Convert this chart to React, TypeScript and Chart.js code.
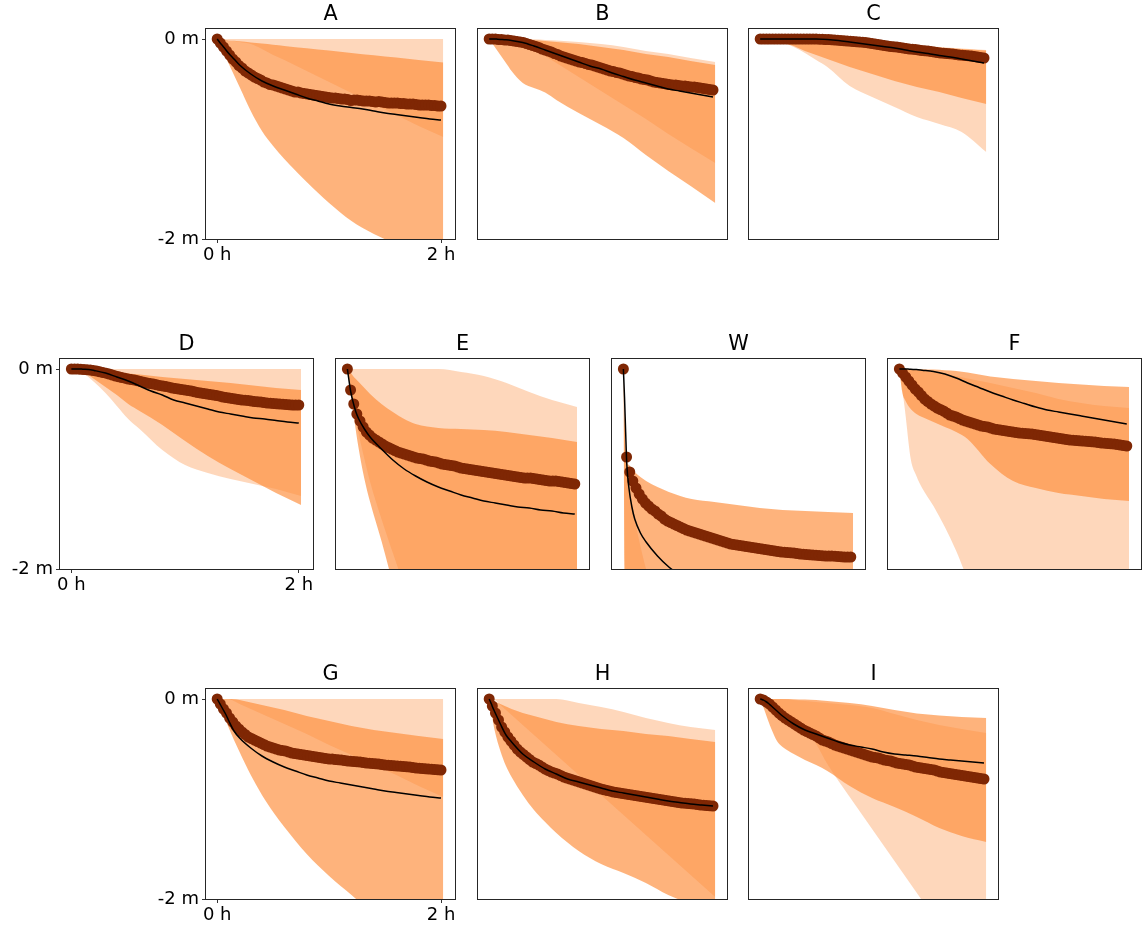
import React, { useEffect, useRef } from 'react';
import { Chart, registerables } from 'chart.js';
Chart.register(...registerables);

// ---- shared time axes (hours) ----
const DOT_T = [0, 0.028, 0.056, 0.083, 0.111, 0.139, 0.167, 0.194, 0.222, 0.25, 0.278, 0.306, 0.333, 0.361, 0.389, 0.417, 0.444, 0.472, 0.5, 0.528, 0.556, 0.583, 0.611, 0.639, 0.667, 0.694, 0.722, 0.75, 0.778, 0.806, 0.833, 0.861, 0.889, 0.917, 0.944, 0.972, 1.0, 1.028, 1.056, 1.083, 1.111, 1.139, 1.167, 1.194, 1.222, 1.25, 1.278, 1.306, 1.333, 1.361, 1.389, 1.417, 1.444, 1.472, 1.5, 1.528, 1.556, 1.583, 1.611, 1.639, 1.667, 1.694, 1.722, 1.75, 1.778, 1.806, 1.833, 1.861, 1.889, 1.917, 1.944, 1.972, 2.0];
const LINE_T = [0, 0.01, 0.02, 0.03, 0.05, 0.075, 0.1, 0.15, 0.2, 0.3, 0.4, 0.5, 0.6, 0.7, 0.8, 0.9, 1.0, 1.1, 1.2, 1.3, 1.4, 1.5, 1.6, 1.7, 1.8, 1.9, 2.0];
const BAND_T = [0, 0.025, 0.05, 0.1, 0.15, 0.2, 0.3, 0.4, 0.5, 0.6, 0.8, 1.0, 1.2, 1.4, 1.6, 1.8, 2.02];

const X_TICKS = [0, 2];
const Y_TICKS = [-2, 0];

// ---- A ----
const A_DOTS = [0, -0.04, -0.08, -0.12, -0.16, -0.2, -0.23, -0.265, -0.29, -0.32, -0.34, -0.36,
  -0.38, -0.395, -0.41, -0.43, -0.44, -0.455, -0.46, -0.47, -0.48, -0.49, -0.5, -0.51,
  -0.52, -0.53, -0.53, -0.54, -0.545, -0.55, -0.555, -0.56, -0.565, -0.57, -0.575, -0.58,
  -0.585, -0.59, -0.59, -0.595, -0.6, -0.6, -0.605, -0.615, -0.61, -0.61, -0.615, -0.62,
  -0.62, -0.62, -0.625, -0.63, -0.625, -0.63, -0.635, -0.64, -0.64, -0.64, -0.64, -0.645,
  -0.645, -0.65, -0.65, -0.65, -0.655, -0.66, -0.66, -0.66, -0.66, -0.665, -0.665, -0.67, -0.67];
const A_LINE = [0, -0.015, -0.03, -0.045, -0.07, -0.105, -0.14, -0.2, -0.26, -0.35, -0.42, -0.47, -0.51, -0.55, -0.59, -0.62, -0.65, -0.67, -0.685, -0.7, -0.72, -0.74, -0.755, -0.77, -0.785, -0.8, -0.81];
const A_P_UP = [0, 0, 0, 0, 0, 0, 0, 0, 0, 0, 0, 0, 0, 0, 0, 0, 0];
const A_P_LO = [0, 0, -0.005, -0.01, -0.02, -0.03, -0.05, -0.1, -0.16, -0.21, -0.32, -0.43, -0.54, -0.65, -0.76, -0.87, -0.98];
const A_M_UP = [0, -0.003, -0.006, -0.012, -0.017, -0.023, -0.035, -0.046, -0.058, -0.07, -0.093, -0.116, -0.14, -0.163, -0.186, -0.21, -0.235];
const A_M_LO = [0, -0.06, -0.12, -0.24, -0.36, -0.48, -0.72, -0.92, -1.07, -1.2, -1.43, -1.64, -1.82, -1.95, -2.05, -2.14, -2.22];

// ---- B ----
const B_DOTS = [0, 0, 0, -0.005, -0.005, -0.01, -0.01, -0.015, -0.02, -0.025, -0.03, -0.035,
  -0.045, -0.055, -0.065, -0.075, -0.085, -0.1, -0.11, -0.12, -0.13, -0.145, -0.155, -0.17,
  -0.18, -0.19, -0.2, -0.21, -0.22, -0.23, -0.235, -0.245, -0.255, -0.26, -0.27, -0.28,
  -0.29, -0.3, -0.31, -0.32, -0.325, -0.335, -0.34, -0.35, -0.36, -0.37, -0.375, -0.385,
  -0.39, -0.4, -0.405, -0.41, -0.42, -0.43, -0.435, -0.44, -0.445, -0.45, -0.455, -0.46,
  -0.46, -0.465, -0.47, -0.47, -0.475, -0.48, -0.48, -0.485, -0.49, -0.495, -0.5, -0.505, -0.51];
const B_LINE = [0, 0, 0, 0, 0, -0.002, -0.004, -0.008, -0.015, -0.035, -0.07, -0.11, -0.15, -0.19, -0.23, -0.27, -0.3, -0.34, -0.375, -0.41, -0.44, -0.47, -0.5, -0.52, -0.54, -0.56, -0.58];
const B_P_UP = [0, 0, 0, 0, 0, 0, 0, -0.003, -0.01, -0.015, -0.03, -0.05, -0.08, -0.12, -0.15, -0.19, -0.23];
const B_P_LO = [0, 0, 0, 0, 0, -0.005, -0.04, -0.1, -0.17, -0.24, -0.38, -0.52, -0.66, -0.8, -0.95, -1.09, -1.24];
const B_M_UP = [0, 0, 0, 0, 0, -0.003, -0.008, -0.013, -0.02, -0.03, -0.05, -0.08, -0.11, -0.15, -0.18, -0.22, -0.26];
const B_M_LO = [0, -0.04, -0.08, -0.16, -0.24, -0.32, -0.44, -0.49, -0.535, -0.61, -0.74, -0.86, -0.99, -1.16, -1.32, -1.47, -1.64];

// ---- C ----
const C_DOTS = [0, 0, 0, 0, 0, 0, 0, 0, 0, 0, 0, 0,
  0, 0, 0, 0, 0, 0, 0, -0.002, -0.003, -0.005, -0.006, -0.008,
  -0.01, -0.012, -0.015, -0.018, -0.02, -0.022, -0.025, -0.028, -0.03, -0.032, -0.035, -0.04,
  -0.045, -0.05, -0.055, -0.06, -0.065, -0.07, -0.075, -0.078, -0.08, -0.085, -0.09, -0.095,
  -0.1, -0.102, -0.105, -0.11, -0.115, -0.118, -0.12, -0.125, -0.13, -0.135, -0.14, -0.142,
  -0.145, -0.148, -0.15, -0.155, -0.16, -0.162, -0.165, -0.168, -0.17, -0.175, -0.18, -0.185, -0.19];
const C_LINE = [0, 0, 0, 0, 0, 0, 0, 0, 0, 0, 0, 0, -0.005, -0.015, -0.03, -0.045, -0.06, -0.075, -0.09, -0.11, -0.13, -0.145, -0.165, -0.18, -0.2, -0.22, -0.24];
const C_P_UP = [0, 0, 0, 0, 0, 0, 0, -0.003, -0.007, -0.01, -0.02, -0.035, -0.05, -0.065, -0.08, -0.095, -0.11];
const C_P_LO = [0, 0, -0.003, -0.008, -0.015, -0.035, -0.08, -0.14, -0.21, -0.28, -0.47, -0.58, -0.68, -0.78, -0.85, -0.93, -1.13];
const C_M_UP = [0, 0, 0, 0, 0, 0, -0.002, -0.005, -0.01, -0.013, -0.024, -0.04, -0.055, -0.07, -0.085, -0.1, -0.115];
const C_M_LO = [0, 0, 0, -0.005, -0.01, -0.035, -0.07, -0.12, -0.16, -0.2, -0.28, -0.35, -0.42, -0.48, -0.53, -0.59, -0.65];

// ---- D ----
const D_DOTS = [0, 0, 0, -0.003, -0.005, -0.008, -0.01, -0.015, -0.02, -0.028, -0.035, -0.042,
  -0.05, -0.06, -0.07, -0.078, -0.085, -0.092, -0.1, -0.105, -0.11, -0.118, -0.125, -0.132,
  -0.14, -0.145, -0.15, -0.158, -0.165, -0.17, -0.175, -0.182, -0.19, -0.195, -0.2, -0.205,
  -0.21, -0.215, -0.22, -0.228, -0.235, -0.24, -0.245, -0.25, -0.255, -0.26, -0.265, -0.272,
  -0.28, -0.285, -0.29, -0.295, -0.3, -0.305, -0.31, -0.312, -0.315, -0.32, -0.325, -0.328,
  -0.33, -0.335, -0.34, -0.342, -0.345, -0.348, -0.35, -0.352, -0.355, -0.358, -0.36, -0.36, -0.36];
const D_LINE = [0, 0, 0, 0, 0, 0, -0.002, -0.005, -0.015, -0.04, -0.08, -0.12, -0.17, -0.22, -0.26, -0.31, -0.34, -0.37, -0.4, -0.43, -0.45, -0.47, -0.49, -0.5, -0.515, -0.53, -0.54];
const D_P_UP = [0, 0, 0, 0, 0, 0, 0, 0, 0, 0, 0, 0, 0, 0, 0, 0, 0];
const D_P_LO = [0, -0.005, -0.01, -0.04, -0.08, -0.13, -0.24, -0.37, -0.5, -0.6, -0.81, -0.96, -1.04, -1.1, -1.15, -1.2, -1.27];
const D_M_UP = [0, 0, 0, -0.005, -0.01, -0.015, -0.025, -0.035, -0.045, -0.055, -0.08, -0.1, -0.12, -0.14, -0.165, -0.19, -0.21];
const D_M_LO = [0, -0.005, -0.01, -0.03, -0.06, -0.1, -0.18, -0.26, -0.35, -0.42, -0.56, -0.72, -0.87, -1.0, -1.12, -1.24, -1.36];

// ---- E ----
const E_DOTS = [0, -0.21, -0.35, -0.45, -0.52, -0.58, -0.63, -0.66, -0.69, -0.71, -0.73, -0.75,
  -0.77, -0.785, -0.8, -0.815, -0.83, -0.84, -0.85, -0.86, -0.87, -0.88, -0.89, -0.895,
  -0.9, -0.91, -0.92, -0.925, -0.93, -0.94, -0.95, -0.955, -0.96, -0.965, -0.97, -0.98,
  -0.99, -0.995, -1.0, -1.005, -1.01, -1.015, -1.02, -1.025, -1.03, -1.035, -1.04, -1.045,
  -1.05, -1.055, -1.06, -1.065, -1.07, -1.075, -1.08, -1.085, -1.09, -1.09, -1.09, -1.095,
  -1.1, -1.105, -1.11, -1.115, -1.12, -1.12, -1.12, -1.125, -1.13, -1.135, -1.14, -1.145, -1.15];
const E_LINE = [0, -0.08, -0.16, -0.23, -0.33, -0.43, -0.5, -0.6, -0.68, -0.8, -0.91, -1.0, -1.07, -1.13, -1.18, -1.22, -1.26, -1.29, -1.32, -1.34, -1.36, -1.38, -1.39, -1.41, -1.42, -1.44, -1.45];
const E_P_UP = [0, 0, 0, 0, 0, 0, 0, 0, 0, 0, 0, -0.03, -0.07, -0.14, -0.23, -0.31, -0.38];
const E_P_LO = [0, -0.15, -0.36, -0.65, -0.9, -1.13, -1.5, -1.84, -2.17, -2.5, -3.1, -3.6, -4, -4, -4, -4, -4];
const E_M_UP = [0, -0.03, -0.07, -0.13, -0.19, -0.25, -0.35, -0.43, -0.5, -0.55, -0.59, -0.6, -0.61, -0.63, -0.66, -0.69, -0.73];
const E_M_LO = [0, -0.2, -0.42, -0.8, -1.1, -1.33, -1.72, -2.15, -2.6, -3.0, -3.6, -4, -4, -4, -4, -4, -4];

// ---- W ----
const W_DOTS = [0, -0.88, -1.03, -1.12, -1.19, -1.25, -1.3, -1.34, -1.37, -1.4, -1.42, -1.45,
  -1.47, -1.5, -1.52, -1.535, -1.55, -1.565, -1.58, -1.595, -1.61, -1.62, -1.63, -1.64,
  -1.65, -1.66, -1.67, -1.68, -1.69, -1.7, -1.71, -1.72, -1.73, -1.74, -1.75, -1.755,
  -1.76, -1.765, -1.77, -1.775, -1.78, -1.785, -1.79, -1.795, -1.8, -1.805, -1.81, -1.815,
  -1.82, -1.825, -1.83, -1.832, -1.835, -1.838, -1.84, -1.845, -1.85, -1.852, -1.855, -1.858,
  -1.86, -1.862, -1.865, -1.868, -1.87, -1.87, -1.87, -1.872, -1.875, -1.878, -1.88, -1.88, -1.88];
const W_LINE = [0, -0.28, -0.63, -0.95, -1.2, -1.38, -1.5, -1.64, -1.73, -1.87, -1.98, -2.06, -2.12, -2.17, -2.21, -2.25, -2.28, -2.31, -2.33, -2.35, -2.37, -2.39, -2.4, -2.42, -2.43, -2.44, -2.45];
const W_P_UP = [0, -0.9, -1.15, -1.5, -1.77, -2.0, -2.35, -2.7, -3.0, -3.3, -3.8, -4, -4, -4, -4, -4, -4];
const W_P_LO = [0, -4, -4, -4, -4, -4, -4, -4, -4, -4, -4, -4, -4, -4, -4, -4, -4];
const W_M_UP = [0, -0.88, -0.96, -1.03, -1.08, -1.12, -1.18, -1.23, -1.27, -1.3, -1.33, -1.36, -1.39, -1.41, -1.42, -1.43, -1.44];
const W_M_LO = [0, -4, -4, -4, -4, -4, -4, -4, -4, -4, -4, -4, -4, -4, -4, -4, -4];

// ---- F ----
const F_DOTS = [0, -0.04, -0.08, -0.12, -0.16, -0.2, -0.23, -0.265, -0.3, -0.325, -0.35, -0.37,
  -0.39, -0.405, -0.42, -0.44, -0.46, -0.47, -0.48, -0.495, -0.51, -0.52, -0.53, -0.54,
  -0.55, -0.56, -0.57, -0.575, -0.58, -0.59, -0.6, -0.605, -0.61, -0.615, -0.62, -0.625,
  -0.63, -0.635, -0.64, -0.642, -0.645, -0.648, -0.65, -0.655, -0.66, -0.665, -0.67, -0.675,
  -0.68, -0.685, -0.69, -0.695, -0.7, -0.705, -0.71, -0.712, -0.715, -0.718, -0.72, -0.722,
  -0.725, -0.728, -0.73, -0.735, -0.74, -0.742, -0.745, -0.748, -0.75, -0.755, -0.76, -0.765, -0.77];
const F_LINE = [0, 0, 0, 0, 0, -0.001, -0.003, -0.006, -0.012, -0.025, -0.05, -0.09, -0.14, -0.185, -0.23, -0.27, -0.31, -0.345, -0.38, -0.41, -0.43, -0.45, -0.47, -0.49, -0.51, -0.53, -0.55];
const F_P_UP = [0, 0, -0.002, -0.005, -0.01, -0.015, -0.03, -0.05, -0.07, -0.095, -0.14, -0.19, -0.24, -0.3, -0.34, -0.37, -0.39];
const F_P_LO = [0, -0.2, -0.42, -0.9, -1.07, -1.19, -1.37, -1.58, -1.82, -2.1, -2.6, -3.0, -3.2, -3.4, -3.5, -3.6, -3.7];
const F_M_UP = [0, 0, 0, 0, 0, -0.002, -0.006, -0.012, -0.02, -0.035, -0.075, -0.1, -0.12, -0.14, -0.155, -0.17, -0.18];
const F_M_LO = [0, -0.23, -0.31, -0.4, -0.45, -0.48, -0.53, -0.58, -0.63, -0.7, -0.95, -1.12, -1.19, -1.24, -1.27, -1.3, -1.32];

// ---- G ----
const G_DOTS = [0, -0.05, -0.1, -0.14, -0.19, -0.23, -0.27, -0.3, -0.33, -0.355, -0.38, -0.395,
  -0.41, -0.425, -0.44, -0.455, -0.47, -0.48, -0.49, -0.5, -0.51, -0.515, -0.52, -0.53,
  -0.54, -0.545, -0.55, -0.555, -0.56, -0.565, -0.57, -0.575, -0.58, -0.585, -0.59, -0.595,
  -0.6, -0.6, -0.605, -0.608, -0.61, -0.615, -0.62, -0.622, -0.625, -0.628, -0.63, -0.635,
  -0.64, -0.642, -0.645, -0.648, -0.65, -0.655, -0.66, -0.662, -0.665, -0.668, -0.67, -0.672,
  -0.675, -0.678, -0.68, -0.685, -0.69, -0.692, -0.695, -0.698, -0.7, -0.702, -0.705, -0.708, -0.71];
const G_LINE = [0, -0.02, -0.04, -0.06, -0.1, -0.15, -0.21, -0.32, -0.39, -0.49, -0.57, -0.63, -0.68, -0.72, -0.76, -0.79, -0.82, -0.84, -0.86, -0.88, -0.9, -0.92, -0.935, -0.95, -0.965, -0.98, -0.99];
const G_P_UP = [0, 0, 0, 0, 0, 0, 0, 0, 0, 0, 0, 0, 0, 0, 0, 0, 0];
const G_P_LO = [0, 0, 0, 0, -0.02, -0.05, -0.1, -0.15, -0.2, -0.25, -0.35, -0.46, -0.56, -0.66, -0.76, -0.87, -0.98];
const G_M_UP = [0, 0, 0, 0, -0.003, -0.01, -0.035, -0.06, -0.085, -0.11, -0.17, -0.22, -0.27, -0.31, -0.34, -0.37, -0.4];
const G_M_LO = [0, -0.07, -0.14, -0.28, -0.41, -0.53, -0.76, -0.96, -1.13, -1.28, -1.55, -1.77, -1.96, -2.15, -2.3, -2.45, -2.6];

// ---- H ----
const H_DOTS = [0, -0.07, -0.14, -0.21, -0.28, -0.33, -0.38, -0.42, -0.46, -0.5, -0.53, -0.555,
  -0.58, -0.605, -0.63, -0.645, -0.66, -0.68, -0.7, -0.715, -0.73, -0.74, -0.75, -0.765,
  -0.78, -0.79, -0.8, -0.81, -0.82, -0.83, -0.84, -0.85, -0.86, -0.87, -0.88, -0.89,
  -0.9, -0.908, -0.915, -0.922, -0.93, -0.935, -0.94, -0.945, -0.95, -0.955, -0.96, -0.965,
  -0.97, -0.975, -0.98, -0.985, -0.99, -0.995, -1.0, -1.005, -1.01, -1.015, -1.02, -1.025,
  -1.03, -1.035, -1.04, -1.042, -1.045, -1.048, -1.05, -1.055, -1.06, -1.062, -1.065, -1.068, -1.07];
const H_LINE = [0, -0.025, -0.05, -0.08, -0.13, -0.19, -0.25, -0.36, -0.43, -0.55, -0.63, -0.7, -0.75, -0.8, -0.83, -0.86, -0.89, -0.92, -0.94, -0.96, -0.98, -1.0, -1.02, -1.035, -1.05, -1.06, -1.07];
const H_P_UP = [0, 0, 0, 0, 0, 0, 0, 0, 0, 0, -0.04, -0.08, -0.13, -0.19, -0.24, -0.28, -0.31];
const H_P_LO = [0, 0, -0.01, -0.06, -0.11, -0.16, -0.26, -0.36, -0.46, -0.56, -0.76, -0.96, -1.16, -1.36, -1.56, -1.76, -1.98];
const H_M_UP = [0, -0.012, -0.025, -0.05, -0.075, -0.1, -0.14, -0.17, -0.2, -0.23, -0.27, -0.3, -0.32, -0.35, -0.37, -0.4, -0.43];
const H_M_LO = [0, -0.17, -0.32, -0.52, -0.67, -0.78, -0.96, -1.11, -1.23, -1.34, -1.52, -1.65, -1.74, -1.84, -1.96, -2.05, -2.15];

// ---- I ----
const I_DOTS = [0, -0.01, -0.03, -0.05, -0.08, -0.11, -0.14, -0.165, -0.19, -0.21, -0.23, -0.25,
  -0.27, -0.29, -0.31, -0.325, -0.34, -0.355, -0.37, -0.39, -0.41, -0.42, -0.43, -0.445,
  -0.46, -0.47, -0.48, -0.49, -0.5, -0.51, -0.52, -0.53, -0.54, -0.55, -0.56, -0.57,
  -0.58, -0.585, -0.59, -0.6, -0.61, -0.615, -0.62, -0.63, -0.64, -0.645, -0.65, -0.655,
  -0.66, -0.67, -0.68, -0.685, -0.69, -0.695, -0.7, -0.705, -0.71, -0.72, -0.73, -0.735,
  -0.74, -0.745, -0.75, -0.755, -0.76, -0.765, -0.77, -0.775, -0.78, -0.785, -0.79, -0.795, -0.8];
const I_LINE = [0, -0.003, -0.007, -0.012, -0.025, -0.045, -0.07, -0.12, -0.17, -0.25, -0.31, -0.35, -0.39, -0.43, -0.46, -0.48, -0.5, -0.53, -0.55, -0.56, -0.57, -0.585, -0.6, -0.61, -0.62, -0.63, -0.64];
const I_P_UP = [0, 0, 0, 0, 0, -0.003, -0.01, -0.02, -0.03, -0.04, -0.06, -0.09, -0.15, -0.21, -0.26, -0.3, -0.34];
const I_P_LO = [0, -0.01, -0.02, -0.05, -0.08, -0.12, -0.2, -0.3, -0.45, -0.65, -0.98, -1.3, -1.62, -1.94, -2.26, -2.58, -2.9];
const I_M_UP = [0, 0, 0, 0, 0, 0, -0.002, -0.005, -0.01, -0.02, -0.04, -0.07, -0.11, -0.145, -0.165, -0.18, -0.19];
const I_M_LO = [0, -0.07, -0.15, -0.3, -0.42, -0.48, -0.55, -0.61, -0.66, -0.72, -0.87, -0.99, -1.08, -1.18, -1.29, -1.37, -1.43];

// ---- styles ----
const FONT = "'DejaVu Sans', sans-serif";
const PEACH = 'rgba(253,141,60,0.35)';
const MED = 'rgba(253,141,60,0.67)';
const DOT_COLOR = 'rgb(127,39,4)';
const NONE = 'rgba(0,0,0,0)';

type PanelData = { title: string; dots: number[]; line: number[]; pUp: number[]; pLo: number[]; mUp: number[]; mLo: number[] };
type Layout = { left: number; top: number; width: number; height: number; labeled: boolean };

const DATA: PanelData[] = [
  { title: 'A', dots: A_DOTS, line: A_LINE, pUp: A_P_UP, pLo: A_P_LO, mUp: A_M_UP, mLo: A_M_LO },
  { title: 'B', dots: B_DOTS, line: B_LINE, pUp: B_P_UP, pLo: B_P_LO, mUp: B_M_UP, mLo: B_M_LO },
  { title: 'C', dots: C_DOTS, line: C_LINE, pUp: C_P_UP, pLo: C_P_LO, mUp: C_M_UP, mLo: C_M_LO },
  { title: 'D', dots: D_DOTS, line: D_LINE, pUp: D_P_UP, pLo: D_P_LO, mUp: D_M_UP, mLo: D_M_LO },
  { title: 'E', dots: E_DOTS, line: E_LINE, pUp: E_P_UP, pLo: E_P_LO, mUp: E_M_UP, mLo: E_M_LO },
  { title: 'W', dots: W_DOTS, line: W_LINE, pUp: W_P_UP, pLo: W_P_LO, mUp: W_M_UP, mLo: W_M_LO },
  { title: 'F', dots: F_DOTS, line: F_LINE, pUp: F_P_UP, pLo: F_P_LO, mUp: F_M_UP, mLo: F_M_LO },
  { title: 'G', dots: G_DOTS, line: G_LINE, pUp: G_P_UP, pLo: G_P_LO, mUp: G_M_UP, mLo: G_M_LO },
  { title: 'H', dots: H_DOTS, line: H_LINE, pUp: H_P_UP, pLo: H_P_LO, mUp: H_M_UP, mLo: H_M_LO },
  { title: 'I', dots: I_DOTS, line: I_LINE, pUp: I_P_UP, pLo: I_P_LO, mUp: I_M_UP, mLo: I_M_LO },
];

// plot-area rectangles in page pixels
const LAYOUT: Layout[] = [
  { left: 206, top: 29, width: 249, height: 210, labeled: true },
  { left: 478, top: 29, width: 249, height: 210, labeled: false },
  { left: 749, top: 29, width: 249, height: 210, labeled: false },
  { left: 60, top: 359, width: 253, height: 210, labeled: true },
  { left: 336, top: 359, width: 253, height: 210, labeled: false },
  { left: 612, top: 359, width: 253, height: 210, labeled: false },
  { left: 888, top: 359, width: 253, height: 210, labeled: false },
  { left: 206, top: 689, width: 249, height: 210, labeled: true },
  { left: 478, top: 689, width: 249, height: 210, labeled: false },
  { left: 749, top: 689, width: 249, height: 210, labeled: false },
];

const TITLE_SIZE = 20.8;
const TICK_SIZE = 18;
const PAD_L = 60;
const PAD_T = 32;
const PAD_B = 32;
const PAD_R = 12;

const framePlugin = {
  id: 'frame',
  afterDraw(chart: any) {
    const { ctx, chartArea } = chart;
    const { left, top, right, bottom } = chartArea;
    ctx.save();
    ctx.strokeStyle = '#262626';
    ctx.lineWidth = 1;
    ctx.strokeRect(left - 0.5, top - 0.5, right - left + 1, bottom - top + 1);
    ctx.restore();
  },
};

function pts(ts: number[], vs: number[]) {
  return ts.map((t, i) => ({ x: t, y: vs[i] }));
}

function band(data: any[], fill: any, color: string, order: number) {
  return {
    data,
    fill,
    backgroundColor: color,
    borderColor: NONE,
    borderWidth: 0,
    pointRadius: 0,
    pointHoverRadius: 0,
    cubicInterpolationMode: 'monotone',
    order,
  };
}

function Panel({ d, l }: { d: PanelData; l: Layout }) {
  const ref = useRef<HTMLCanvasElement>(null);
  const cw = PAD_L + l.width + PAD_R;
  const ch = PAD_T + l.height + PAD_B;
  useEffect(() => {
    const canvas = ref.current!;
    const tickFont = { size: TICK_SIZE, family: FONT };
    const titleLine = TITLE_SIZE * 1.2;
    const padTop = 5;
    const padBottom = PAD_T - titleLine - padTop;
    const chart = new Chart(canvas, {
      type: 'line',
      data: {
        datasets: [
          band(pts(BAND_T, d.pLo), false, NONE, 3),
          band(pts(BAND_T, d.pUp), '-1', PEACH, 3),
          band(pts(BAND_T, d.mLo), false, NONE, 2),
          band(pts(BAND_T, d.mUp), '-1', MED, 2),
          {
            data: pts(DOT_T, d.dots),
            showLine: false,
            pointRadius: 5.5,
            pointHoverRadius: 5.5,
            pointBackgroundColor: DOT_COLOR,
            pointBorderWidth: 0,
            pointBorderColor: DOT_COLOR,
            fill: false,
            order: 1,
          },
          {
            data: pts(LINE_T, d.line),
            borderColor: '#000',
            borderWidth: 1.5,
            pointRadius: 0,
            pointHoverRadius: 0,
            fill: false,
            cubicInterpolationMode: 'monotone',
            order: 0,
          },
        ] as any,
      },
      options: {
        animation: false,
        responsive: false,
        maintainAspectRatio: false,
        devicePixelRatio: 1,
        events: [],
        layout: { padding: { left: 0, right: PAD_R, top: 0, bottom: 0 } },
        plugins: {
          legend: { display: false },
          tooltip: { enabled: false },
          title: {
            display: true,
            fullSize: false,
            text: d.title,
            color: '#000',
            font: { size: TITLE_SIZE, family: FONT, weight: 'normal', lineHeight: 1.2 },
            padding: { top: padTop, bottom: padBottom },
          },
        },
        scales: {
          x: {
            type: 'linear',
            min: -0.1,
            max: 2.125,
            afterBuildTicks: (s: any) => {
              s.ticks = l.labeled ? X_TICKS.map((v) => ({ value: v })) : [];
            },
            afterFit: (s: any) => {
              s.height = PAD_B;
            },
            ticks: {
              display: l.labeled,
              callback: (v: any) => `${v} h`,
              font: tickFont,
              color: '#000',
              padding: 2,
              maxRotation: 0,
              autoSkip: false,
            },
            grid: { display: l.labeled, drawOnChartArea: false, drawTicks: true, tickLength: 4, color: '#000', lineWidth: 0.8 },
            border: { display: false },
          },
          y: {
            type: 'linear',
            min: -2,
            max: 0.1,
            afterBuildTicks: (s: any) => {
              s.ticks = l.labeled ? Y_TICKS.map((v) => ({ value: v })) : [];
            },
            afterFit: (s: any) => {
              s.width = PAD_L;
            },
            ticks: {
              display: l.labeled,
              callback: (v: any) => `${v} m`,
              font: tickFont,
              color: '#000',
              padding: 3,
              autoSkip: false,
            },
            grid: { display: l.labeled, drawOnChartArea: false, drawTicks: true, tickLength: 4, color: '#000', lineWidth: 0.8 },
            border: { display: false },
          },
        },
      } as any,
      plugins: [framePlugin],
    });
    return () => chart.destroy();
  }, []);
  return (
    <canvas
      ref={ref}
      width={cw}
      height={ch}
      style={{ position: 'absolute', left: l.left - PAD_L, top: l.top - PAD_T, width: cw, height: ch, display: 'block' }}
    />
  );
}

export default function App() {
  return (
    <div style={{ position: 'absolute', left: 0, top: 0, width: 1144, height: 929, background: '#fff', overflow: 'hidden' }}>
      {DATA.map((d, i) => (
        <Panel key={d.title} d={d} l={LAYOUT[i]} />
      ))}
    </div>
  );
}
